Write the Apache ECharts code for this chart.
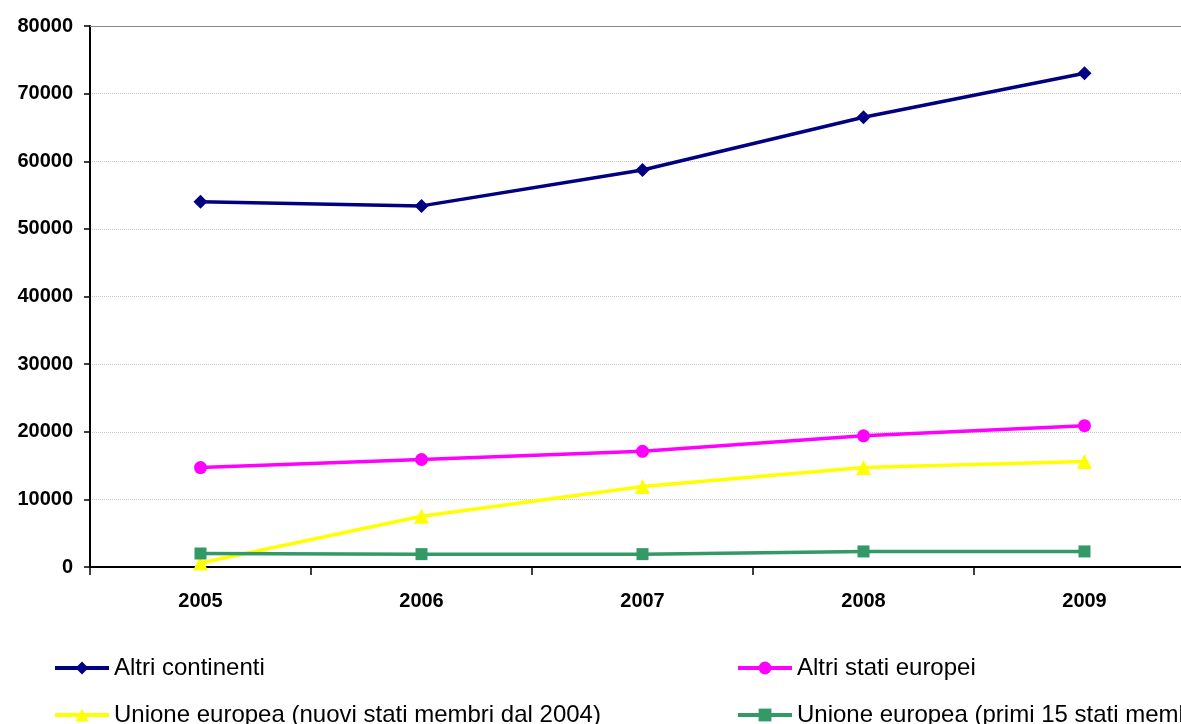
<!DOCTYPE html>
<html>
<head>
<meta charset="utf-8">
<script src="https://cdn.jsdelivr.net/npm/echarts@6/dist/echarts.min.js"></script>
<style>
html,body{margin:0;padding:0;background:#fff;overflow:hidden;width:1181px;height:724px;}
#c{width:1220px;height:724px;}
</style>
</head>
<body>
<div id="c"></div>
<script>
var categories = ['2005', '2006', '2007', '2008', '2009'];
var altriContinenti = [54000, 53400, 58700, 66500, 73000];
var altriStatiEuropei = [14700, 15900, 17100, 19400, 20900];
var ueNuovi = [600, 7500, 11900, 14700, 15600];
var uePrimi15 = [2000, 1900, 1900, 2300, 2300];
var seriesNames = ['Altri continenti', 'Altri stati europei', 'Unione europea (nuovi stati membri dal 2004)', 'Unione europea (primi 15 stati membri)'];

var chart = echarts.init(document.getElementById('c'));
var font = 'Liberation Sans, Arial, sans-serif';
function legend(name, left, top) {
  return {
    data: [name], left: left, top: top, itemWidth: 54, itemHeight: 16, itemGap: 0, padding: 0,
    lineStyle: { width: 4 },
    textStyle: { fontFamily: font, fontSize: 24, color: '#000' },
    selectedMode: false
  };
}
function line(name, data, color, symbol, size) {
  return {
    name: name, type: 'line', data: data, symbol: symbol, symbolSize: size,
    lineStyle: { color: color, width: 3.5 }, itemStyle: { color: color },
    animation: false
  };
}
chart.setOption({
  animation: false,
  legend: [
    legend(seriesNames[0], 53, 656),
    legend(seriesNames[1], 736, 656),
    legend(seriesNames[2], 53, 703),
    legend(seriesNames[3], 736, 703)
  ],
  grid: { left: 90, top: 26, width: 1105, bottom: 157, containLabel: false },
  xAxis: [{
    type: 'category', data: categories, boundaryGap: true,
    axisLine: { lineStyle: { color: '#000', width: 2 } },
    axisTick: { show: true, length: 8, lineStyle: { color: '#000', width: 1.5 } },
    axisLabel: { fontFamily: font, fontSize: 20, fontWeight: 'bold', color: '#000', margin: 24 },
    splitLine: { show: false }
  }, {
    type: 'category', data: categories, position: 'top',
    axisLine: { show: true, lineStyle: { color: '#888', width: 1 } },
    axisTick: { show: false }, axisLabel: { show: false }, splitLine: { show: false }
  }],
  yAxis: {
    type: 'value', min: 0, max: 80000, interval: 10000,
    axisLine: { show: true, lineStyle: { color: '#000', width: 2 } },
    axisTick: { show: true, length: 6, lineStyle: { color: '#000', width: 1.5 } },
    axisLabel: { fontFamily: font, fontSize: 20, fontWeight: 'bold', color: '#000', margin: 17,
      formatter: function (v) { return String(v); } },
    splitLine: { show: true, lineStyle: { color: '#c8c8c8', type: 'dotted', width: 1 } }
  },
  series: [
    line(seriesNames[0], altriContinenti, '#000080', 'diamond', 14),
    line(seriesNames[1], altriStatiEuropei, '#ff00ff', 'circle', 13),
    line(seriesNames[2], ueNuovi, '#ffff00', 'triangle', 15),
    line(seriesNames[3], uePrimi15, '#339966', 'rect', 12)
  ]
});
</script>
</body>
</html>
